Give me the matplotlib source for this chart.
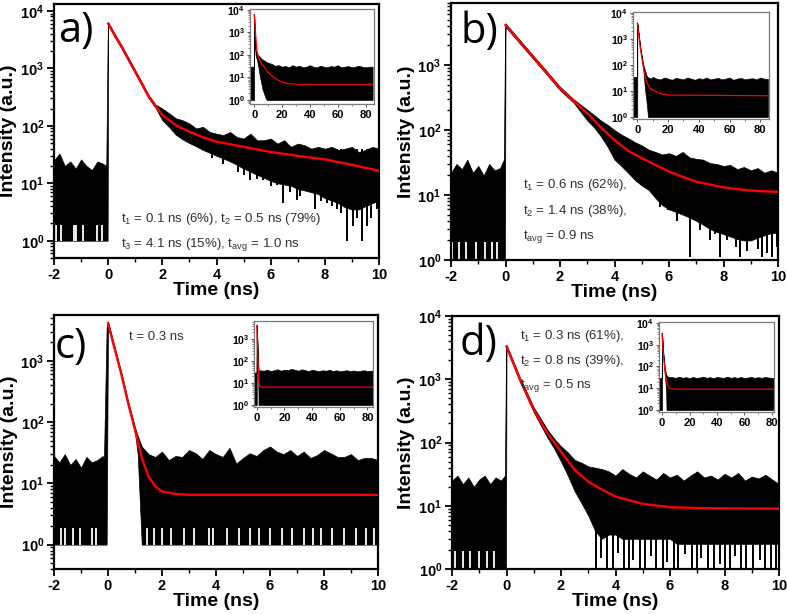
import numpy as np
import matplotlib
matplotlib.use('Agg')
import matplotlib.pyplot as plt
from matplotlib.ticker import LogLocator, FixedLocator, FuncFormatter, NullFormatter

plt.rcParams['font.family'] = ['Liberation Sans', 'DejaVu Sans']
plt.rcParams['font.weight'] = 'bold'
plt.rcParams['axes.unicode_minus'] = False
plt.rcParams['mathtext.fontset'] = 'custom'
plt.rcParams['mathtext.rm'] = 'Liberation Sans:weight=normal'
plt.rcParams['mathtext.bf'] = 'Liberation Sans:weight=bold'
plt.rcParams['mathtext.it'] = 'Liberation Sans:italic:weight=normal'
plt.rcParams['mathtext.default'] = 'rm'

W, H = 787, 614

# ---------------- data ----------------
PRE_T = [-2.0, -1.8, -1.6, -1.4, -1.2, -1.0, -0.8, -0.6, -0.4, -0.2]

# panel a : black trace envelope (upper / lower), red fit
a_bt = PRE_T + [-0.07, -0.02, 0.0, 0.25, 0.5, 0.75, 1.0, 1.25, 1.5, 1.75] + list(np.round(np.arange(2.0, 10.01, 0.25), 2))
a_bup = [25, 33, 20, 24, 18, 26, 20, 17, 24, 22, 20, 3000,
         6400, 3950, 2500, 1520, 930, 565, 340, 235,
         200, 165, 135, 125, 110, 90, 96, 78, 73, 69, 78, 64, 60, 73, 56, 56, 60,
         49, 56, 43, 49, 46, 40, 43, 40, 43, 38, 40, 43, 35, 38, 43, 40]
a_blo = [1, 1, 1, 1, 1, 1, 1, 1, 1, 1, 1, 1,
         5700, 3450, 2200, 1340, 810, 495, 300, 205,
         125, 95, 70, 58, 50, 44, 38, 34, 30, 27, 24, 21, 18, 16, 14, 12.5, 11,
         10, 9.5, 9, 8, 7.5, 7, 6.5, 5.5, 5, 4.5, 3.8, 3.5, 3.5, 4, 4.5, 5]
a_spk_t = [3.82, 4.25, 4.81, 5.0, 5.24, 5.5, 5.73, 6.0, 6.22, 6.47, 6.7, 6.96, 7.1, 7.33,
           7.64, 7.85, 8.07, 8.25, 8.44, 8.6, 8.81, 9.05, 9.2, 9.36, 9.55, 9.7, 9.92]
a_spk_lo = [27, 22, 16, 14, 11.5, 12, 11.5, 9, 9.4, 4.5, 7, 5.2, 6, 7.7,
            3.5, 5, 4.5, 4, 3.5, 3, 1.0, 1.8, 2.5, 1.0, 1.8, 2.5, 3.5]
a_gap_t = [-1.93, -1.74, -1.25, -1.18, -0.93, -0.41, -0.23]
a_ft = [0.0, 0.25, 0.5, 0.75, 1.0, 1.25, 1.5, 1.75, 2.0, 2.5, 3.0, 3.5, 4.0, 5.0, 6.0, 7.0, 8.0, 9.0, 10.0]
a_fy = [6000, 3700, 2350, 1430, 870, 530, 320, 220, 155, 102, 79, 63, 53, 43, 35, 30, 26, 21, 16.5]

# panel b
b_bt = PRE_T + [-0.06, -0.02, 0.0, 0.5, 1.0, 1.5, 2.0, 2.5] + list(np.round(np.arange(3.0, 10.01, 0.25), 2))
b_bup = [22, 30, 25, 35, 22, 28, 20, 30, 24, 26, 35, 2000,
         4370, 2490, 1425, 816, 463, 297,
         205, 170, 140, 120, 100, 85, 75, 65, 58, 50, 46, 42, 44, 40, 46, 38, 36, 35,
         31, 30, 28, 29, 25, 27, 24, 26, 22, 24, 22]
b_blo = [1, 1, 1, 1, 1, 1, 1, 1, 1, 1, 1, 1,
         3870, 2210, 1265, 724, 410, 263,
         140, 110, 80, 55, 35, 28, 22, 17, 14, 12, 9, 7, 6, 5.5, 5, 4.5, 4, 3.5,
         3, 2.7, 2.5, 2.3, 2.1, 2, 2, 2.2, 2.4, 2.6, 2.6]
b_spk_t = [5.67, 5.97, 6.3, 6.77, 7.14, 7.32, 7.5, 7.7, 7.87, 8.12, 8.3, 8.45, 8.6, 8.85,
           9.09, 9.25, 9.4, 9.59, 9.77, 9.95]
b_spk_lo = [6.6, 5.9, 4, 1.1, 2.9, 4.1, 2.0, 2.5, 1.1, 2.0, 2.9, 1.6, 1.1, 1.4,
            2.0, 1.5, 1.1, 1.3, 1.1, 1.6]
b_gap_t = [-1.95, -1.7, -1.45, -1.1, -0.75, -0.5, -0.3]
b_ft = [0.0, 0.5, 1.0, 1.5, 2.0, 2.5, 3.0, 3.5, 4.0, 4.5, 5.0, 5.5, 6.0, 6.5, 7.0, 7.5, 8.0, 8.5, 9.0, 9.5, 10.0]
b_fy = [4120, 2350, 1345, 770, 437, 280, 181, 110, 70, 48, 37, 29, 23, 19, 16, 14.5, 13.1, 12.3, 11.7, 11.4, 11.2]

# panel c
c_bt = PRE_T + [-0.15, -0.05, 0.0, 0.25, 0.5, 0.75, 1.0, 1.1] + list(np.round(np.arange(1.25, 10.01, 0.25), 2))
c_bup = [28, 22, 30, 20, 25, 18, 27, 22, 24, 28, 25, 3500,
         4400, 1650, 630, 215, 82, 60,
         40, 30, 27, 33, 24, 28, 27, 35, 31, 25, 35, 30, 27, 38, 21, 26, 31, 28,
         35, 40, 33, 30, 35, 28, 33, 26, 29, 35, 31, 27, 27, 30, 24, 26, 26, 24]
c_blo = [1, 1, 1, 1, 1, 1, 1, 1, 1, 1, 1, 1,
         3800, 1450, 550, 185, 68, 30,
         1, 1, 1, 1, 1, 1, 1, 1, 1, 1, 1, 1, 1, 1, 1, 1, 1, 1,
         1, 1, 1, 1, 1, 1, 1, 1, 1, 1, 1, 1, 1, 1, 1, 1, 1, 1]
c_spk_t = []
c_spk_lo = []
c_gap_t = [-1.75, -1.6, -1.3, -1.05, -0.6, -0.45, 1.45, 1.7, 2.0, 2.35, 2.8, 3.2, 3.75, 3.9, 4.4,
           4.85, 5.25, 5.6, 6.0, 6.45, 6.8, 7.25, 7.6, 7.9, 8.3, 8.75, 9.2, 9.55, 9.85]
c_ft = [0.0, 0.25, 0.5, 0.75, 1.0, 1.25, 1.5, 1.75, 2.0, 2.5, 3.0, 10.0]
c_fy = [4100, 1550, 590, 200, 75, 26, 13, 8.9, 7.4, 6.7, 6.5, 6.5]

# panel d
d_bt = PRE_T + [-0.06, -0.02, 0.0, 0.5, 1.0, 1.5, 1.75, 2.0, 2.25, 2.5, 2.75, 3.0, 3.25, 3.5] + list(np.round(np.arange(3.75, 10.01, 0.25), 2))
d_bup = [25, 30, 22, 28, 20, 26, 30, 22, 28, 25, 30, 1800,
         3500, 1050, 360, 160, 115, 87, 70, 53, 48, 42, 40, 38,
         35, 30, 38, 32, 28, 35, 30, 26, 33, 28, 31, 25, 30, 35, 28, 30, 26, 32, 28, 33,
         25, 29, 27, 31, 26, 22]
d_blo = [1, 1, 1, 1, 1, 1, 1, 1, 1, 1, 1, 1,
         3100, 900, 300, 120, 80, 50, 30, 17, 11, 7, 4, 3,
         3.5, 3.5, 3, 3, 3, 3, 3, 3, 3, 3, 2.5, 2.5, 2.5, 2.5, 2.5, 2.5, 2.5, 2.5, 2.5, 2.5,
         2.5, 2.5, 2.5, 2.5, 2.5, 2.5]
d_spk_t = [3.3, 3.45, 3.7, 3.9, 4.1, 4.3, 4.5, 4.65, 4.9, 5.1, 5.3, 5.5, 5.75, 5.9, 6.15, 6.3, 6.55,
           6.8, 7.0, 7.15, 7.4, 7.6, 7.85, 8.0, 8.2, 8.4, 8.6, 8.8, 9.05, 9.3, 9.5, 9.7, 9.9]
d_spk_lo = [1, 1.5, 1, 1, 1.8, 1, 1, 1.4, 1, 1, 1.6, 1, 1, 1.3, 1, 1, 1.7,
            1, 1, 1.5, 1, 1, 1.2, 1, 1, 1.6, 1, 1, 1, 1.4, 1, 1, 1]
d_gap_t = [-1.9, -1.6, -1.35, -1.0, -0.7, -0.45]
d_ft = [0.0, 0.5, 1.0, 1.5, 2.0, 2.5, 3.0, 3.5, 4.0, 5.0, 6.0, 7.0, 8.0, 10.0]
d_fy = [3300, 980, 330, 140, 72, 37, 24, 18, 14, 10.7, 9.5, 9.2, 9.1, 9.0]

# insets (0 - 85 ns)
TAIL = list(np.round(np.arange(12.5, 85.01, 2.5), 2))
ia_bt = [-3, -0.3, -0.1, 0, 1, 2, 3, 4, 5, 6, 7, 8, 9, 10] + TAIL
ia_bup = [30, 30, 2000, 6500, 150, 110, 95, 85, 70, 62, 58, 52, 48, 45,
          40, 33, 35, 30, 32, 28, 35, 30, 33, 28, 30, 35, 30, 28, 33, 30, 28, 32, 30, 35,
          28, 30, 32, 28, 30, 33, 30, 28, 30, 30]
ia_blo = [1, 1, 1, 5500, 100, 60, 30, 12, 6, 3, 2, 1.3, 1, 1] + [1] * 30
ia_ft = [0, 1, 2, 3, 5, 7, 10, 15, 20, 25, 30, 85]
ia_fy = [6000, 870, 155, 79, 43, 30, 16.5, 9, 6.2, 5.3, 5.0, 5.0]

ib_bt = [-2.8, -0.2, -0.05, 0, 1, 2, 3, 4, 5, 6, 6.5, 7, 8, 9, 10] + TAIL
ib_bup = [35, 35, 2000, 4400, 1450, 480, 205, 100, 62, 40, 36, 33, 32, 30, 35,
          30, 28, 33, 30, 27, 32, 30, 28, 33, 30, 27, 31, 29, 33, 28, 30, 32, 28, 30, 33,
          27, 30, 32, 28, 30, 31, 28, 33, 30, 29]
ib_blo = [1, 1, 1, 3850, 1250, 390, 160, 60, 12, 4, 2, 1, 1, 1, 1] + [1] * 30
ib_ft = [0, 1, 2, 3, 4, 5, 6, 8, 10, 15, 20, 85]
ib_fy = [4120, 1345, 437, 181, 79, 39, 23, 13.1, 11.2, 8, 7, 6.6]

ic_bt = [-2, -0.2, -0.05, 0, 0.5, 1, 1.3, 1.5] + list(np.round(np.arange(2.5, 85.01, 2.5), 2))
ic_bup = [30, 30, 3000, 4400, 630, 82, 40, 35,
          38, 36, 40, 35, 38, 42, 36, 40, 38, 44, 40, 36, 42, 38, 35, 40, 37, 34, 38, 36,
          40, 35, 38, 34, 36, 38, 35, 37, 34, 36, 38, 35, 36, 38]
ic_blo = [1, 1, 1, 3800, 550, 68, 1, 1] + [1] * 34
ic_ft = [0, 0.5, 1, 1.5, 2, 3, 84]
ic_fy = [4100, 590, 75, 13, 7.4, 6.5, 6.5]

id_bt = [-2.2, -0.2, -0.05, 0, 1, 2, 3, 3.3, 4, 5] + list(np.round(np.arange(7.5, 80.01, 2.5), 2)) + [81.5]
id_bup = [30, 30, 1800, 3500, 360, 87, 42, 40, 35, 33,
          32, 30, 34, 30, 32, 29, 33, 30, 31, 34, 30, 32, 29, 33, 31, 30, 34, 30, 32, 30,
          33, 29, 31, 33, 30, 32, 30, 33, 31, 30, 30]
id_blo = [1, 1, 1, 3100, 300, 50, 7, 1, 1, 1] + [1] * 31
id_ft = [0, 1, 2, 3, 4, 6, 10, 81.5]
id_fy = [3300, 330, 72, 24, 14, 9.5, 9.0, 9.0]

X_TICKS = [-2, 0, 2, 4, 6, 8, 10]
X_MINOR = [-1, 1, 3, 5, 7, 9]
IN_X_TICKS = [0, 20, 40, 60, 80]

# ---------------- drawing ----------------
fig = plt.figure(figsize=(W / 100, H / 100), dpi=100)


def add_ax(l, t, r, b):
    return fig.add_axes([l / W, 1 - b / H, (r - l) / W, (b - t) / H])


def pow_fmt(v, pos):
    e = int(round(np.log10(v)))
    return r'10$^{\mathbf{%d}}$' % e


def draw_trace(ax, bt, bup, blo, ft, fy, spk_t, spk_lo, gap_t, red_lw, spk_hi):
    ax.fill_between(bt, blo, bup, color='black', lw=0.5, edgecolor='black', zorder=2)
    if len(spk_t):
        ax.vlines(spk_t, spk_lo, spk_hi, color='black', lw=1.4, zorder=2)
    if len(gap_t):
        ax.vlines(gap_t, 1.0, 1.9, color='white', lw=1.3, zorder=2.5)
    ax.plot(ft, fy, color='#ff0000', lw=red_lw, zorder=3)


def style_main(ax, ylim):
    ax.set_yscale('log')
    ax.set_xlim(-2, 10)
    ax.set_ylim(*ylim)
    ax.xaxis.set_major_locator(FixedLocator(X_TICKS))
    ax.xaxis.set_minor_locator(FixedLocator(X_MINOR))
    ax.yaxis.set_major_locator(LogLocator(base=10, numticks=10))
    ax.yaxis.set_minor_locator(LogLocator(base=10, subs=np.arange(2, 10), numticks=30))
    ax.yaxis.set_major_formatter(FuncFormatter(pow_fmt))
    ax.yaxis.set_minor_formatter(NullFormatter())
    ax.tick_params(which='major', direction='out', length=5, width=1.3, labelsize=10.5, pad=2)
    ax.tick_params(which='minor', direction='out', length=3, width=1.0)
    for s in ax.spines.values():
        s.set_linewidth(1.6)
    ax.set_xlabel('Time (ns)', fontsize=14, fontweight='bold', labelpad=0)
    ax.set_ylabel('Intensity (a.u.)', fontsize=14, fontweight='bold', labelpad=2)


def style_inset(ax, xlim, ylim):
    ax.set_yscale('log')
    ax.set_xlim(*xlim)
    ax.set_ylim(*ylim)
    ax.xaxis.set_major_locator(FixedLocator(IN_X_TICKS))
    ax.xaxis.set_minor_locator(FixedLocator([10, 30, 50, 70]))
    ax.yaxis.set_major_locator(LogLocator(base=10, numticks=10))
    ax.yaxis.set_minor_locator(LogLocator(base=10, subs=np.arange(2, 10), numticks=30))
    ax.yaxis.set_major_formatter(FuncFormatter(pow_fmt))
    ax.yaxis.set_minor_formatter(NullFormatter())
    ax.tick_params(axis='x', which='major', direction='out', length=2.5, width=0.7,
                   labelsize=8, pad=1.5, color='#555555')
    ax.tick_params(axis='y', which='major', direction='out', length=2.5, width=0.7,
                   labelsize=7.5, pad=1, color='#555555')
    ax.tick_params(which='minor', direction='out', length=1.5, width=0.5, color='#555555')
    for s in ax.spines.values():
        s.set_linewidth(0.9)
        s.set_color('#7a7a7a')


# main axes
axA = add_ax(54, 4, 379, 258)
axB = add_ax(451, 3, 778, 260)
axC = add_ax(54, 315, 378, 569)
axD = add_ax(452, 316, 779, 569)

draw_trace(axA, a_bt, a_bup, a_blo, a_ft, a_fy, a_spk_t, a_spk_lo, a_gap_t, 1.7, 40)
draw_trace(axB, b_bt, b_bup, b_blo, b_ft, b_fy, b_spk_t, b_spk_lo, b_gap_t, 1.7, 15)
draw_trace(axC, c_bt, c_bup, c_blo, c_ft, c_fy, c_spk_t, c_spk_lo, c_gap_t, 1.7, 10)
draw_trace(axD, d_bt, d_bup, d_blo, d_ft, d_fy, d_spk_t, d_spk_lo, d_gap_t, 1.7, 10)

style_main(axA, (0.5, 13200))
style_main(axB, (1, 9000))
style_main(axC, (0.4, 5600))
style_main(axD, (1, 10000))

# insets
inA = add_ax(250, 9, 374, 104)
inB = add_ax(633, 12, 769, 119)
inC = add_ax(254, 321, 373, 407)
inD = add_ax(659, 322, 774, 412)
draw_trace(inA, ia_bt, ia_bup, ia_blo, ia_ft, ia_fy, [], [], [], 0.9, 1)
draw_trace(inB, ib_bt, ib_bup, ib_blo, ib_ft, ib_fy, [], [], [], 0.9, 1)
draw_trace(inC, ic_bt, ic_bup, ic_blo, ic_ft, ic_fy, [], [], [], 0.9, 1)
draw_trace(inD, id_bt, id_bup, id_blo, id_ft, id_fy, [], [], [], 0.9, 1)
style_inset(inA, (-3, 86), (0.66, 11000))
style_inset(inB, (-2.8, 85.7), (0.84, 11000))
style_inset(inC, (-2, 84), (0.81, 6600))
style_inset(inD, (-2.2, 81.5), (0.81, 11000))

# panel letters
letter_kw = dict(fontsize=30, fontweight='normal', family=['Open Sans', 'DejaVu Sans'],
                 color='black', va='baseline', ha='left')
fig.text(58 / W, 1 - 42 / H, 'a)', **letter_kw)
fig.text(460 / W, 1 - 43 / H, 'b)', **letter_kw)
fig.text(55 / W, 1 - 358 / H, 'c)', **letter_kw)
fig.text(460 / W, 1 - 355 / H, 'd)', **letter_kw)

# annotations
ann_kw = dict(fontsize=9.5, fontweight='normal', color='#303030', va='baseline', ha='left')
fig.text(121 / W, 1 - 222 / H, r't$_1$ = 0.1 ns (6%), t$_2$ = 0.5 ns (79%)', **ann_kw)
fig.text(121 / W, 1 - 247 / H, r't$_3$ = 4.1 ns (15%), t$_{avg}$ = 1.0 ns', **ann_kw)
fig.text(523 / W, 1 - 188 / H, r't$_1$ = 0.6 ns (62%),', **ann_kw)
fig.text(523 / W, 1 - 214 / H, r't$_2$ = 1.4 ns (38%),', **ann_kw)
fig.text(523 / W, 1 - 239 / H, r't$_{avg}$ = 0.9 ns', **ann_kw)
fig.text(129 / W, 1 - 340 / H, 't = 0.3 ns', **ann_kw)
fig.text(520 / W, 1 - 339 / H, r't$_1$ = 0.3 ns (61%),', **ann_kw)
fig.text(520 / W, 1 - 364 / H, r't$_2$ = 0.8 ns (39%),', **ann_kw)
fig.text(520 / W, 1 - 388 / H, r't$_{avg}$ = 0.5 ns', **ann_kw)

fig.savefig('out.png', dpi=100)
